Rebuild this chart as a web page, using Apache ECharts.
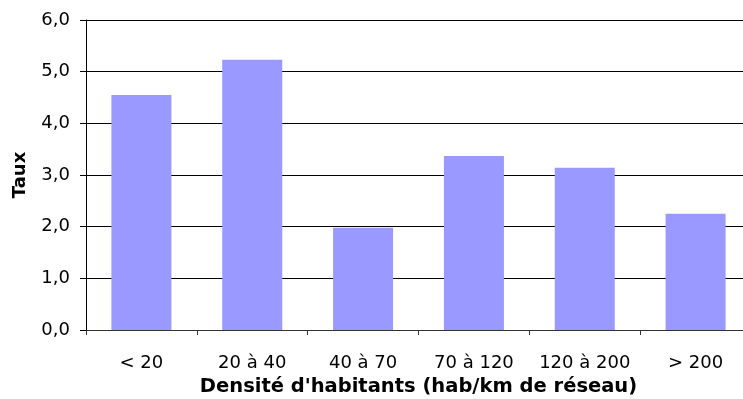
<!DOCTYPE html>
<html>
<head>
<meta charset="utf-8">
<script src="https://cdn.jsdelivr.net/npm/echarts@6/dist/echarts.min.js"></script>
<style>
  html, body { margin: 0; padding: 0; background: #fff; }
  #chart { width: 743px; height: 399px; }
</style>
</head>
<body>
<div id="chart"></div>
<script>
// categories de densité
const categories = ['< 20', '20 à 40', '40 à 70', '70 à 120', '120 à 200', '> 200'];
// taux
const taux = [4.55, 5.23, 1.98, 3.37, 3.14, 2.25];

const chart = echarts.init(document.getElementById('chart'));

chart.setOption({
  animation: false,
  textStyle: { fontFamily: 'DejaVu Sans' },
  grid: {
    left: 86, top: 20, width: 665, height: 310,
    containLabel: false,
    outerBoundsMode: 'none'
  },
  xAxis: {
    type: 'category',
    data: categories,
    name: "Densité d'habitants (hab/km de réseau)",
    nameLocation: 'middle',
    nameGap: 44,
    nameTextStyle: { fontSize: 19.5, fontWeight: 'bold', color: '#000', fontFamily: 'DejaVu Sans' },
    axisLine: { lineStyle: { color: '#333', width: 1 } },
    axisTick: { show: true, length: 5, inside: false, interval: 0, lineStyle: { color: '#333' } },
    axisLabel: { fontSize: 18, color: '#000', margin: 24, interval: 0, fontFamily: 'DejaVu Sans' }
  },
  yAxis: {
    type: 'value',
    min: 0,
    max: 6,
    interval: 1,
    name: 'Taux',
    nameLocation: 'middle',
    nameGap: 57,
    nameTextStyle: { fontSize: 18, fontWeight: 'bold', color: '#000', fontFamily: 'DejaVu Sans' },
    axisLine: { show: true, lineStyle: { color: '#000', width: 1 } },
    axisTick: { show: true, length: 6, lineStyle: { color: '#000' } },
    axisLabel: {
      fontSize: 18,
      color: '#000',
      margin: 16,
      fontFamily: 'DejaVu Sans',
      formatter: v => v.toFixed(1).replace('.', ',')
    },
    splitLine: { show: true, lineStyle: { color: '#000', width: 1 } }
  },
  series: [{
    type: 'bar',
    data: taux,
    barWidth: 60,
    itemStyle: { color: '#9999FF' }
  }]
});
</script>
</body>
</html>
